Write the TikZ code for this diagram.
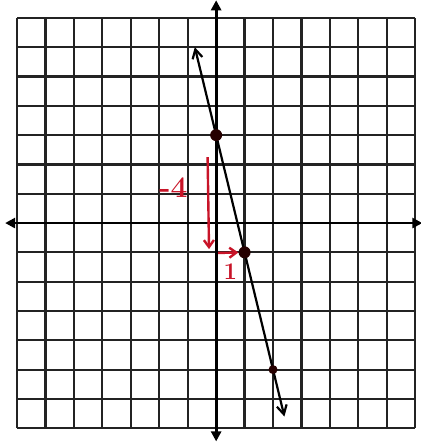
\documentclass[tikz,border=0pt]{standalone}
\usetikzlibrary{arrows.meta}
\definecolor{pen}{RGB}{200,20,40}
\definecolor{gridc}{RGB}{35,35,35}
\begin{document}
\begin{tikzpicture}[x=28.43bp,y=29.3bp,
  gridline/.style={gridc,line width=2.2bp},
  axisline/.style={black,line width=2.8bp,{Triangle[length=10bp,width=10bp]}-{Triangle[length=10bp,width=10bp]}},
  graphline/.style={black,line width=2.2bp,{Straight Barb[length=9bp,width=10bp]}-{Straight Barb[length=9bp,width=10bp]}},
  dot/.style={circle,fill=black!85!red,inner sep=0pt,minimum size=12bp},
  redarrow/.style={pen,line width=2.4bp,-{Straight Barb[length=7bp,width=10bp]}},
  redtext/.style={pen,font=\bfseries\fontsize{30}{30}\selectfont}]
\useasboundingbox (-7.6,-7.47) rectangle (7.175,7.61);
% grid
\foreach \i in {-7,...,7} {
  \draw[gridline] (\i,-7) -- (\i,7);
  \draw[gridline] (-7,\i) -- (7,\i);
}
% axes
\coordinate (xl) at (-7.42,0);
\coordinate (xr) at (7.25,0);
\coordinate (yb) at (0,-7.45);
\coordinate (yt) at (0,7.6);
\draw[axisline] (xl) -- (xr);
\draw[axisline] (yb) -- (yt);
% line y = 3 - 4x
\coordinate (lt) at (-0.75,6);
\coordinate (lb) at (2.4,-6.6);
\draw[graphline] (lt) -- (lb);
\node[dot] (p1) at (0,3) {};
\node[dot] (p2) at (1,-1) {};
\node[dot,minimum size=9bp] (p3) at (2,-5) {};
% red annotations
\coordinate (rs) at (-0.3,2.25);
\coordinate (re) at (-0.25,-0.89);
\draw[redarrow] (rs) -- (re);
\node[redtext] (rise) at (-1.5,1.2) {-4};
\coordinate (rl) at (0.07,-1.02);
\draw[redarrow] (rl) -- (p2);
\node[redtext,font=\bfseries\fontsize{24}{24}\selectfont] (run) at (0.5,-1.65) {1};
\end{tikzpicture}
\end{document}
